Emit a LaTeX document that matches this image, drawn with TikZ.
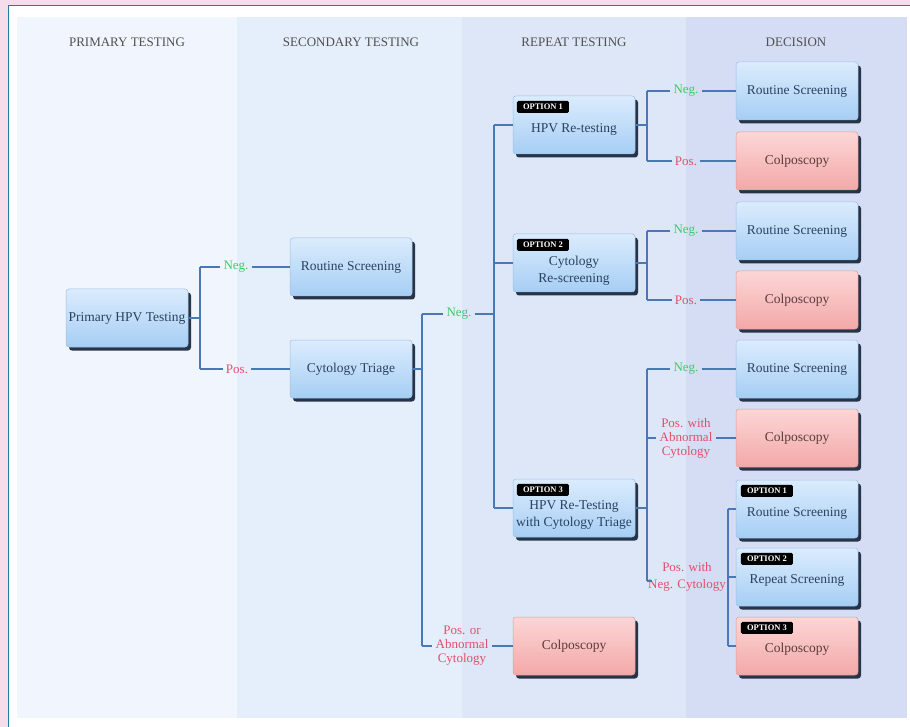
\documentclass[tikz,border=0pt]{standalone}
\usepackage{fontspec}
\setmainfont{Liberation Serif}
\usetikzlibrary{shadows}
\definecolor{pinkbg}{HTML}{F6DDEB}
\definecolor{framec}{HTML}{1A7FA0}
\definecolor{colA}{HTML}{F1F5FD}
\definecolor{colB}{HTML}{E5EEFB}
\definecolor{colC}{HTML}{DEE7F8}
\definecolor{colD}{HTML}{D4DDF4}
\definecolor{bluetop}{HTML}{DBECFD}
\definecolor{bluebot}{HTML}{A6CEF4}
\definecolor{bluedraw}{HTML}{9DBFE6}
\definecolor{pinktop}{HTML}{FCD6D6}
\definecolor{pinkbot}{HTML}{F3A8A8}
\definecolor{pinkdraw}{HTML}{E59A9A}
\definecolor{shadowc}{HTML}{1D2B3F}
\definecolor{bluetext}{HTML}{2A4160}
\definecolor{pinktext}{HTML}{5B3B3B}
\definecolor{linec}{HTML}{4A78B5}
\definecolor{negc}{HTML}{3CCB6C}
\definecolor{posc}{HTML}{E0506A}
\definecolor{headc}{HTML}{505050}
\begin{document}
\begin{tikzpicture}[x=1pt,y=-1pt,
  boxbase/.style={rounded corners=3pt, minimum width=122pt, minimum height=58pt, inner sep=0pt, line width=0.5pt,
    drop shadow={shadow xshift=3pt, shadow yshift=-3.5pt, fill=shadowc, opacity=0.95}},
  bluebox/.style={boxbase, top color=bluetop, bottom color=bluebot, draw=bluedraw},
  pinkbox/.style={boxbase, top color=pinktop, bottom color=pinkbot, draw=pinkdraw},
  btext/.style={text=bluetext, font=\fontsize{13.5}{16.5}\selectfont, align=center, inner sep=0pt},
  ptext/.style={text=pinktext, font=\fontsize{13.5}{16.5}\selectfont, align=center, inner sep=0pt},
  tagbox/.style={fill=black, rounded corners=1.5pt, text=white, font=\fontsize{8.5}{9}\selectfont\bfseries, minimum width=52pt, minimum height=12pt, inner sep=0pt, anchor=north west},
  conn/.style={draw=linec, line width=1.3pt},
  neglab/.style={text=negc, font=\fontsize{13}{15}\selectfont, inner sep=3pt},
  poslab/.style={text=posc, font=\fontsize{13}{16}\selectfont, align=center, inner sep=3pt},
  head/.style={text=headc, font=\fontsize{13}{15}\selectfont}
]
\useasboundingbox (0,0) rectangle (910,727);
% background
\fill[pinkbg] (0,0) rectangle (910,727);
\fill[white] (8.5,5.5) rectangle (910,727);
\draw[framec, line width=1.8pt] (8.5,727) -- (8.5,5.5) -- (910,5.5);
\fill[colA] (17,17) rectangle (237,718);
\fill[colB] (237,17) rectangle (462,718);
\fill[colC] (462,17) rectangle (686,718);
\fill[colD] (686,17) rectangle (907,718);
% headings
\node[head] (h1) at (127,42) {PRIMARY TESTING};
\node[head] (h2) at (351,42) {SECONDARY TESTING};
\node[head] (h3) at (574,42) {REPEAT TESTING};
\node[head] (h4) at (796,42) {DECISION};
% primary / secondary boxes
\node[bluebox] (P) at (127,318) {};
\node[btext] (Pt) at (127,318) {Primary HPV Testing};
\node[bluebox] (RS0) at (351,267) {};
\node[btext] (RS0t) at (351,267) {Routine Screening};
\node[bluebox] (CT) at (351,369) {};
\node[btext] (CTt) at (351,369) {Cytology Triage};
% repeat testing boxes
\node[bluebox] (O1) at (574,125) {};
\node[tagbox] (O1g) at ([xshift=4pt,yshift=-5pt]O1.north west) {OPTION 1};
\node[btext] (O1t) at (574,129) {HPV Re-testing};
\node[bluebox] (O2) at (574,263) {};
\node[tagbox] (O2g) at ([xshift=4pt,yshift=-5pt]O2.north west) {OPTION 2};
\node[btext] (O2t) at (574,271) {Cytology\\Re-screening};
\node[bluebox] (O3) at (574,508) {};
\node[tagbox] (O3g) at ([xshift=4pt,yshift=-5pt]O3.north west) {OPTION 3};
\node[btext] (O3t) at (574,515) {HPV Re-Testing\\with Cytology Triage};
\node[pinkbox] (C0) at (574,646) {};
\node[ptext] (C0t) at (574,646) {Colposcopy};
% decision boxes
\node[bluebox] (RS1) at (797,91) {};
\node[btext] (RS1t) at (797,91) {Routine Screening};
\node[pinkbox] (C1) at (797,161) {};
\node[ptext] (C1t) at (797,161) {Colposcopy};
\node[bluebox] (RS2) at (797,231) {};
\node[btext] (RS2t) at (797,231) {Routine Screening};
\node[pinkbox] (C2) at (797,300) {};
\node[ptext] (C2t) at (797,300) {Colposcopy};
\node[bluebox] (RS3) at (797,369) {};
\node[btext] (RS3t) at (797,369) {Routine Screening};
\node[pinkbox] (C3) at (797,438) {};
\node[ptext] (C3t) at (797,438) {Colposcopy};
\node[bluebox] (RS4) at (797,509) {};
\node[tagbox] (RS4g) at ([xshift=5pt,yshift=-5pt]RS4.north west) {OPTION 1};
\node[btext] (RS4t) at (797,513) {Routine Screening};
\node[bluebox] (RP) at (797,577) {};
\node[tagbox] (RPg) at ([xshift=5pt,yshift=-5pt]RP.north west) {OPTION 2};
\node[btext] (RPt) at (797,580) {Repeat Screening};
\node[pinkbox] (C4) at (797,646) {};
\node[tagbox] (C4g) at ([xshift=5pt,yshift=-5pt]C4.north west) {OPTION 3};
\node[ptext] (C4t) at (797,649) {Colposcopy};
% labels
\node[neglab] (n0) at (236,267) {Neg.};
\node[poslab] (p0) at (237,369) {Pos.};
\node[neglab] (n1) at (459,314) {Neg.};
\node[poslab] (pa) at (462,646) {Pos. or\\[-2pt]Abnormal\\[-2pt]Cytology};
\node[neglab] (n2) at (686,91) {Neg.};
\node[poslab] (p2) at (686,161) {Pos.};
\node[neglab] (n3) at (686,231) {Neg.};
\node[poslab] (p3) at (686,300) {Pos.};
\node[neglab] (n4) at (686,369) {Neg.};
\node[poslab] (pac) at (686,438) {Pos. with\\[-2pt]Abnormal\\[-2pt]Cytology};
\node[poslab, inner sep=0pt] (pnc) at (687,577) {Pos. with\\[1pt]Neg. Cytology};
% junction coordinates
\coordinate (b0) at (200,318);
\coordinate (b1) at (422,369);
\coordinate (b2) at (494,314);
\coordinate (b3) at (647,125);
\coordinate (b4) at (647,263);
\coordinate (b5) at (647,508);
\coordinate (b6) at (728,577);
% connectors: primary
\draw[conn] (P.east) -- (b0);
\draw[conn] (b0 |- n0) -- (b0 |- p0);
\draw[conn] (b0 |- n0) -- (n0.west);
\draw[conn] (n0.east) -- (RS0.west);
\draw[conn] (b0 |- p0) -- (p0.west);
\draw[conn] (p0.east) -- (CT.west);
% cytology triage
\draw[conn] (CT.east) -- (b1);
\draw[conn] (b1 |- n1) -- (b1 |- pa);
\draw[conn] (b1 |- n1) -- (n1.west);
\draw[conn] (n1.east) -- (b2);
\draw[conn] (b1 |- pa) -- (pa.west);
\draw[conn] (pa.east) -- (C0.west);
% repeat options
\draw[conn] (b2 |- O1) -- (b2 |- O3);
\draw[conn] (b2 |- O1) -- (O1.west);
\draw[conn] (b2 |- O2) -- (O2.west);
\draw[conn] (b2 |- O3) -- (O3.west);
% option 1
\draw[conn] (O1.east) -- (b3);
\draw[conn] (b3 |- n2) -- (b3 |- p2);
\draw[conn] (b3 |- n2) -- (n2.west);
\draw[conn] (n2.east) -- (RS1.west);
\draw[conn] (b3 |- p2) -- (p2.west);
\draw[conn] (p2.east) -- (C1.west);
% option 2
\draw[conn] (O2.east) -- (b4);
\draw[conn] (b4 |- n3) -- (b4 |- p3);
\draw[conn] (b4 |- n3) -- (n3.west);
\draw[conn] (n3.east) -- (RS2.west);
\draw[conn] (b4 |- p3) -- (p3.west);
\draw[conn] (p3.east) -- (C2.west);
% option 3
\draw[conn] (O3.east) -- (b5);
\draw[conn] (b5 |- n4) -- ([yshift=-4pt]b5 |- pnc);
\draw[conn] (b5 |- n4) -- (n4.west);
\draw[conn] (n4.east) -- (RS3.west);
\draw[conn] (b5 |- pac) -- (pac.west);
\draw[conn] (pac.east) -- (C3.west);
\draw[conn] ([yshift=-4pt]b5 |- pnc) -- ++(5,0);
% pos with neg cytology
\draw[conn] (b6 |- RS4) -- (b6 |- C4);
\draw[conn] (b6 |- RS4) -- (RS4.west);
\draw[conn] (b6) -- (RP.west);
\draw[conn] (b6 |- C4) -- (C4.west);
\end{tikzpicture}
\end{document}
